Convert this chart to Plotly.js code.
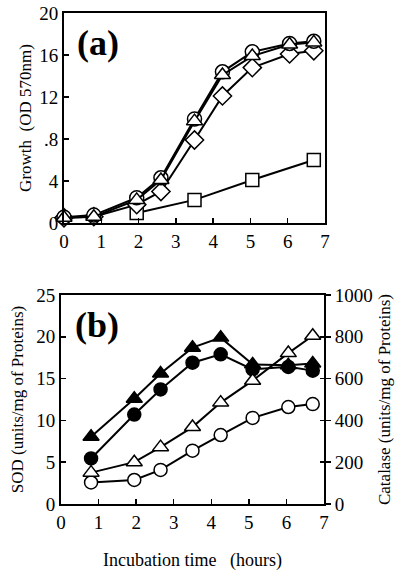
<!DOCTYPE html>
<html><head><meta charset="utf-8">
<script src="https://cdn.plot.ly/plotly-3.0.1.min.js"></script>
<style>html,body{margin:0;padding:0;background:#fff}#c{width:400px;height:575px}</style>
</head><body><div id="c"></div>
<script>
// Panel (a): growth
const timeA = [0, 0.8, 1.95, 2.6, 3.5, 4.25, 5.05, 6.05, 6.7];
const growthCircle = [0.55, 0.75, 2.4, 4.3, 9.9, 14.4, 16.3, 17.1, 17.3];
const growthTriangle = [0.5, 0.6, 2.2, 4.1, 9.7, 14.1, 15.9, 17.0, 17.2];
const growthDiamond = [0.5, 0.6, 1.75, 3.0, 7.9, 12.1, 14.8, 16.1, 16.4];
const timeSquare = [1.95, 3.5, 5.05, 6.7];
const growthSquare = [0.95, 2.2, 4.1, 6.0];
const growthTickVals = [0, 4, 8, 12, 16, 20];
const growthTickText = ['0', '4', '.8', '12', '16', '20'];

// Panel (b): enzymes
const timeB = [0.8, 1.95, 2.65, 3.5, 4.25, 5.1, 6.05, 6.7];
const sodTriangle = [8.05, 12.6, 15.6, 18.7, 19.9, 16.7, 16.6, 16.8];
const sodCircle = [5.45, 10.7, 13.7, 16.9, 17.9, 16.1, 16.4, 15.95];
const catTriangle = [150, 200, 272, 368, 485, 590, 722, 805];
const catCircle = [103, 115, 163, 255, 330, 412, 464, 478];
const xTicks = [0, 1, 2, 3, 4, 5, 6, 7];
const sodTicks = [0, 5, 10, 15, 20, 25];
const catTicks = [0, 200, 400, 600, 800, 1000];

const serif = "'Liberation Serif', 'DejaVu Serif', serif";
const blk = '#000';
function tr(x, y, sym, fill, xa, ya, size) {
  return {x: x, y: y, xaxis: xa, yaxis: ya, type: 'scatter', mode: 'lines+markers',
    line: {color: blk, width: 2},
    marker: {symbol: sym, size: size || 13, color: fill, line: {color: blk, width: 1.5}},
    showlegend: false, hoverinfo: 'skip', cliponaxis: false};
}
const data = [
  tr(timeSquare, growthSquare, 'square', '#fff', 'x', 'y', 13),
  tr(timeA, growthDiamond, 'diamond', '#fff', 'x', 'y', 14),
  tr(timeA, growthCircle, 'circle', '#fff', 'x', 'y', 14),
  tr(timeA, growthTriangle, 'triangle-up', '#fff', 'x', 'y', 14),
  tr(timeB, catCircle, 'circle', '#fff', 'x2', 'y3', 13),
  tr(timeB, catTriangle, 'triangle-up', '#fff', 'x2', 'y3', 14),
  tr(timeB, sodCircle, 'circle', blk, 'x2', 'y2', 13),
  tr(timeB, sodTriangle, 'triangle-up', blk, 'x2', 'y2', 14)
];
const tickF = {family: serif, size: 19, color: blk};
const titleF = {family: serif, size: 17, color: blk};
const baseX = {range: [0, 7], tickvals: xTicks, ticks: 'inside', ticklen: 5, tickwidth: 1.5,
  tickcolor: blk, showline: true, linecolor: blk, linewidth: 2, mirror: true,
  showgrid: false, zeroline: false, tickfont: tickF, fixedrange: true};
const layout = {
  width: 400, height: 575, margin: {l: 0, r: 0, t: 0, b: 0},
  font: {family: serif, color: blk},
  paper_bgcolor: '#fff', plot_bgcolor: '#fff', showlegend: false,
  xaxis: Object.assign({}, baseX, {domain: [0.16, 0.8125], anchor: 'y'}),
  yaxis: {domain: [0.6122, 0.9774], anchor: 'x', range: [0, 20], tickvals: growthTickVals,
    ticktext: growthTickText, ticks: 'inside', ticklen: 5, tickwidth: 1.5, tickcolor: blk,
    showline: true, linecolor: blk, linewidth: 2, mirror: true, showgrid: false, zeroline: false,
    tickfont: tickF, ticklabelstandoff: 0,
    title: {text: 'Growth\u00a0\u00a0(OD 570nm)', font: titleF, standoff: 3}},
  xaxis2: Object.assign({}, baseX, {domain: [0.1525, 0.81], anchor: 'y2',
    title: {text: 'Incubation time\u00a0\u00a0\u00a0(hours)', font: {family: serif, size: 18, color: blk}, standoff: 22}}),
  yaxis2: {domain: [0.1235, 0.487], anchor: 'x2', range: [0, 25], tickvals: sodTicks,
    ticks: 'inside', ticklen: 5, tickwidth: 1.5, tickcolor: blk, showline: true, linecolor: blk,
    linewidth: 2, showgrid: false, zeroline: false, tickfont: tickF,
    title: {text: 'SOD (units/mg of Proteins)', font: titleF, standoff: 8}},
  yaxis3: {domain: [0.1235, 0.487], anchor: 'x2', overlaying: 'y2', side: 'right', range: [0, 1000],
    tickvals: catTicks, ticks: 'outside', ticklen: 5, tickwidth: 1.5,
    tickcolor: blk, showline: true, linecolor: blk, linewidth: 2, showgrid: false, zeroline: false,
    tickfont: tickF, title: {text: 'Catalase (units/mg of Proteins)', font: titleF, standoff: 6}},
  yaxis4: {domain: [0.1235, 0.487], anchor: 'x2', overlaying: 'y2', side: 'right', range: [0, 1000],
    tickvals: catTicks, ticks: 'inside', ticklen: 4, tickwidth: 1.5, tickcolor: blk,
    showticklabels: false, showline: false, showgrid: false, zeroline: false},
  annotations: [
    {text: '<b>(a)</b>', xref: 'paper', yref: 'paper', x: 98 / 400, y: 1 - 43 / 575,
     xanchor: 'center', yanchor: 'middle', showarrow: false, font: {family: serif, size: 36, color: blk}},
    {text: '<b>(b)</b>', xref: 'paper', yref: 'paper', x: 97 / 400, y: 1 - 325 / 575,
     xanchor: 'center', yanchor: 'middle', showarrow: false, font: {family: serif, size: 36, color: blk}}
  ]
};
data.push({x: [null], y: [null], xaxis: 'x2', yaxis: 'y4', type: 'scatter', mode: 'lines',
  showlegend: false, hoverinfo: 'skip'});
Plotly.newPlot('c', data, layout, {staticPlot: true});
</script></body></html>
